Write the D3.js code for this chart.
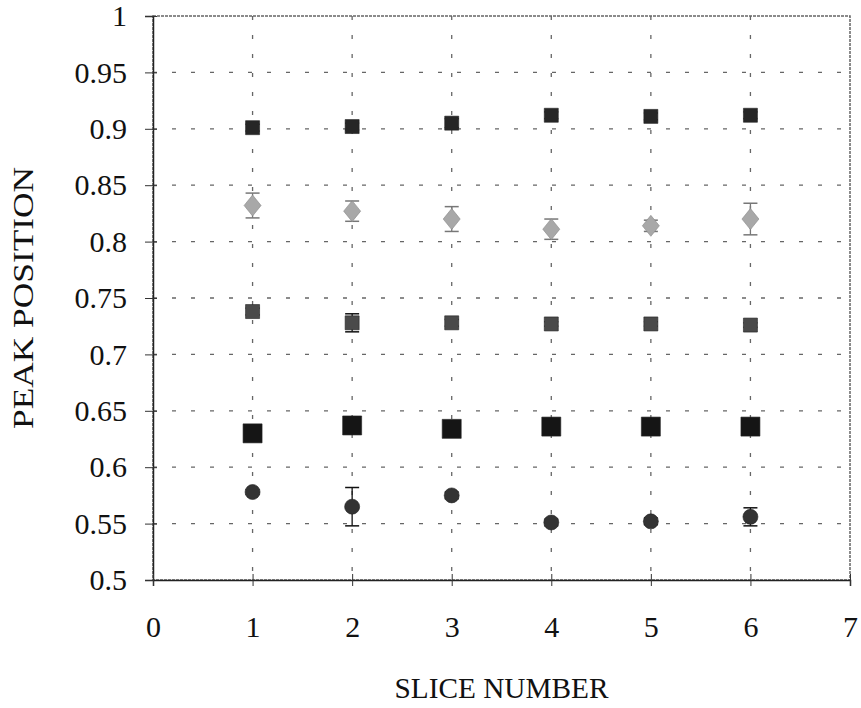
<!DOCTYPE html>
<html>
<head>
<meta charset="utf-8">
<script src="https://cdn.jsdelivr.net/npm/d3@7"></script>
<style>
  body { margin: 0; background: #fff; }
  svg text { font-family: "Liberation Serif", "Times New Roman", serif !important; fill: #111; }
</style>
</head>
<body>
<div id="wrapper"></div>
<script>
const slices = [1, 2, 3, 4, 5, 6]
const xTicks = [0, 1, 2, 3, 4, 5, 6, 7]
const yTicks = [0.5, 0.55, 0.6, 0.65, 0.7, 0.75, 0.8, 0.85, 0.9, 0.95, 1]

// five peaks, mean and error per slice
const peakA = [0.901, 0.902, 0.905, 0.912, 0.911, 0.912]
const peakAErr = [0.003, 0.003, 0.004, 0.003, 0.003, 0.003]
const peakB = [0.832, 0.827, 0.820, 0.811, 0.814, 0.820]
const peakBErr = [0.011, 0.009, 0.011, 0.009, 0.005, 0.014]
const peakC = [0.738, 0.728, 0.728, 0.727, 0.727, 0.726]
const peakCErr = [0.003, 0.008, 0.003, 0.002, 0.002, 0.002]
const peakD = [0.630, 0.637, 0.634, 0.636, 0.636, 0.636]
const peakDErr = [0.002, 0.002, 0.002, 0.002, 0.002, 0.002]
const peakE = [0.578, 0.565, 0.575, 0.551, 0.552, 0.556]
const peakEErr = [0.002, 0.017, 0.003, 0.003, 0.003, 0.008]

const dimensions = {
    width: 861,
    height: 708,
    margins: { top: 16, right: 11, bottom: 128, left: 153 }
}
dimensions.boundedWidth = dimensions.width - dimensions.margins.left - dimensions.margins.right
dimensions.boundedHeight = dimensions.height - dimensions.margins.top - dimensions.margins.bottom

const series = [
    { values: peakE, errors: peakEErr, shape: 'circle', size: 15, fill: '#333', errColor: '#111' },
    { values: peakD, errors: peakDErr, shape: 'square', size: 19, fill: '#151515', errColor: '#111' },
    { values: peakC, errors: peakCErr, shape: 'square', size: 14, fill: '#4a4a4a', errColor: '#111' },
    { values: peakB, errors: peakBErr, shape: 'diamond', size: 17, fill: '#a8a8a8', errColor: '#777' },
    { values: peakA, errors: peakAErr, shape: 'square', size: 14, fill: '#262626', errColor: '#111' }
]

const svg = d3.select('#wrapper')
    .append('svg')
    .attr('width', dimensions.width)
    .attr('height', dimensions.height)

const bounds = svg.append('g')
    .attr('transform', `translate(${dimensions.margins.left},${dimensions.margins.top})`)

const xScale = d3.scaleLinear().domain([0, 7]).range([0, dimensions.boundedWidth])
const yScale = d3.scaleLinear().domain([0.5, 1]).range([dimensions.boundedHeight, 0])

// dashed grid
bounds.append('g')
    .selectAll('line')
    .data(yTicks.slice(1, -1))
    .join('line')
    .attr('x1', 0)
    .attr('x2', dimensions.boundedWidth)
    .attr('y1', d => yScale(d))
    .attr('y2', d => yScale(d))
    .attr('stroke', '#666')
    .attr('stroke-width', 1.3)
    .attr('stroke-dasharray', '4,15')

bounds.append('g')
    .selectAll('line')
    .data(xTicks.slice(1, -1))
    .join('line')
    .attr('x1', d => xScale(d))
    .attr('x2', d => xScale(d))
    .attr('y1', 0)
    .attr('y2', dimensions.boundedHeight)
    .attr('stroke', '#666')
    .attr('stroke-width', 1.3)
    .attr('stroke-dasharray', '4,15')

// frame
bounds.append('rect')
    .attr('width', dimensions.boundedWidth)
    .attr('height', dimensions.boundedHeight)
    .attr('fill', 'none')
    .attr('stroke', '#666')
    .attr('stroke-width', 1.5)
    .attr('stroke-dasharray', '3,1')

// axes with crossing ticks
const yAxis = bounds.append('g')
    .call(d3.axisLeft(yScale).tickValues(yTicks).tickSize(8).tickPadding(18).tickFormat(d3.format('')))
    .attr('font-family', null)
yAxis.select('.domain').attr('stroke', '#222').attr('stroke-width', 1.5)
yAxis.selectAll('.tick line').attr('x2', -8).attr('x1', 4).attr('stroke', '#333')
yAxis.selectAll('.tick text')
    .style('font-size', '30px')
    .attr('fill', '#111')

const xAxis = bounds.append('g')
    .attr('transform', `translate(0,${dimensions.boundedHeight})`)
    .call(d3.axisBottom(xScale).tickValues(xTicks).tickSize(6).tickPadding(30).tickFormat(d3.format('d')))
    .attr('font-family', null)
xAxis.select('.domain').attr('stroke', '#222').attr('stroke-width', 1.5)
xAxis.selectAll('.tick line').attr('y1', -6).attr('y2', 6).attr('stroke', '#333')
xAxis.selectAll('.tick text')
    .style('font-size', '30px')
    .attr('fill', '#111')

// error bars and markers
const capHalf = 7
series.forEach(s => {
    const g = bounds.append('g')
    const pts = slices.map((x, i) => ({ x, y: s.values[i], e: s.errors[i] }))
    g.selectAll('.stem')
        .data(pts)
        .join('line')
        .attr('x1', d => xScale(d.x))
        .attr('x2', d => xScale(d.x))
        .attr('y1', d => yScale(d.y - d.e))
        .attr('y2', d => yScale(d.y + d.e))
        .attr('stroke', s.errColor)
        .attr('stroke-width', 1.3)
    ;[-1, 1].forEach(sign => {
        g.selectAll(null)
            .data(pts)
            .join('line')
            .attr('x1', d => xScale(d.x) - capHalf)
            .attr('x2', d => xScale(d.x) + capHalf)
            .attr('y1', d => yScale(d.y + sign * d.e))
            .attr('y2', d => yScale(d.y + sign * d.e))
            .attr('stroke', s.errColor)
            .attr('stroke-width', 1.5)
    })

    const markers = g.selectAll('.mark')
        .data(pts)
        .join('path')
        .attr('transform', d => `translate(${xScale(d.x)},${yScale(d.y)})`)
        .attr('fill', s.fill)
        .attr('stroke', '#222')
        .attr('stroke-width', 0.6)
    const h = s.size / 2
    if (s.shape === 'square') {
        markers.attr('d', `M${-h},${-h}H${h}V${h}H${-h}Z`)
    } else if (s.shape === 'circle') {
        markers.attr('d', d3.arc()({ innerRadius: 0, outerRadius: h, startAngle: 0, endAngle: 2 * Math.PI }))
    } else {
        markers.attr('d', `M0,${-h - 2}L${h},0L0,${h + 2}L${-h},0Z`).attr('stroke', '#888')
    }
})

// axis titles
svg.append('text')
    .attr('x', dimensions.margins.left + dimensions.boundedWidth / 2)
    .attr('y', 698)
    .attr('text-anchor', 'middle')
    .style('font-size', '29px')
    .attr('textLength', 214)
    .attr('lengthAdjust', 'spacingAndGlyphs')
    .text('SLICE NUMBER')

svg.append('text')
    .attr('transform', `translate(33,${dimensions.margins.top + dimensions.boundedHeight / 2}) rotate(-90)`)
    .attr('text-anchor', 'middle')
    .style('font-size', '29px')
    .attr('textLength', 262)
    .attr('lengthAdjust', 'spacingAndGlyphs')
    .text('PEAK POSITION')
</script>
</body>
</html>
